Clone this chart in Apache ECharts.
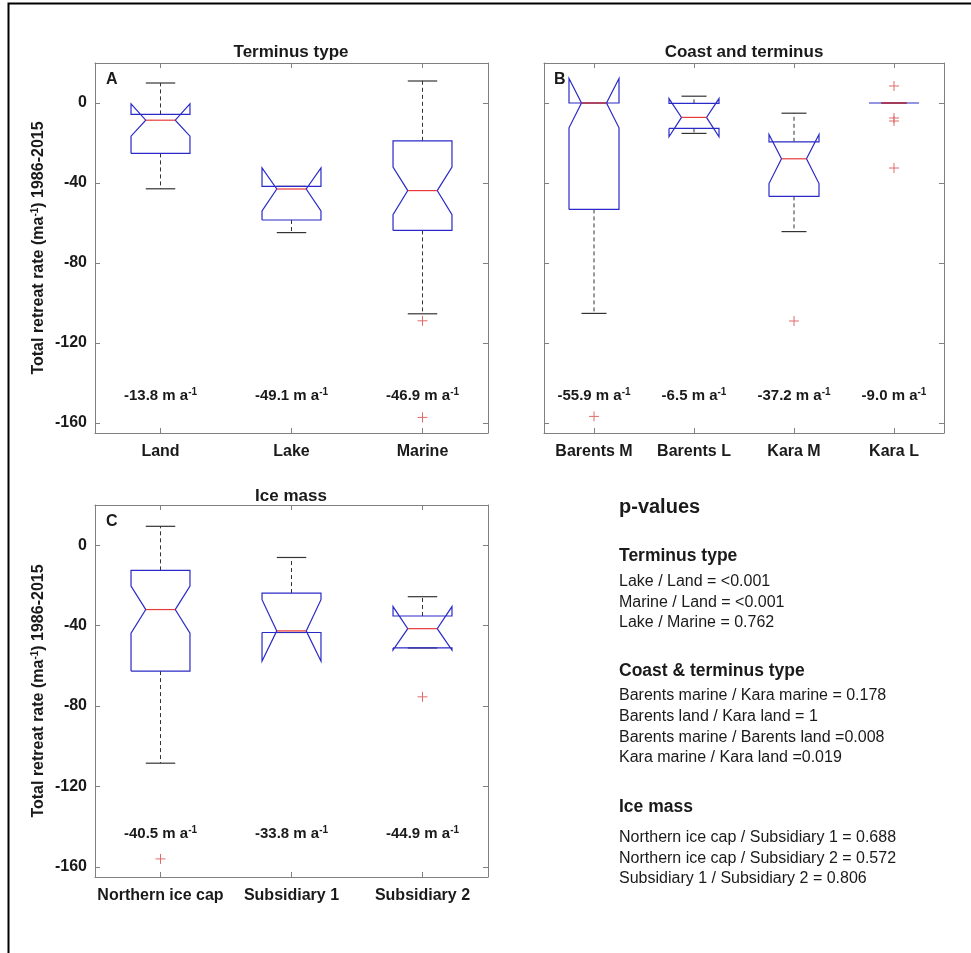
<!DOCTYPE html>
<html><head><meta charset="utf-8">
<script src="https://cdn.jsdelivr.net/npm/echarts@6/dist/echarts.min.js"></script>
<style>html,body{margin:0;padding:0;background:#fff}#c{width:971px;height:953px}</style>
</head><body><div id="c"></div>
<script>
// ---------- data ----------
const yTicks = [-160, -120, -80, -40, 0];

const catsA = ['Land', 'Lake', 'Marine'];
const whiskerHiA = [10, -41.7, 11];
const notchHiA = [-0.4, -32.5, -32];
const q3A = [-5.7, -41.7, -18.9];
const medianA = [-8.6, -43, -43.8];
const q1A = [-25.2, -58.5, -63.7];
const notchLoA = [-16.6, -54, -55.8];
const whiskerLoA = [-42.9, -64.8, -105.4];
const outliersA = [[2, -108.9], [2, -157.2]];
const meansA = [-13.8, -49.1, -46.9];

const catsB = ['Barents M', 'Barents L', 'Kara M', 'Kara L'];
const whiskerHiB = [0, 3.4, -5.1, 0];
const notchHiB = [12.2, 2.2, -15.7, 0];
const q3B = [0, -0.2, -19.4, 0];
const medianB = [0, -7.2, -27.9, 0];
const q1B = [-53.2, -12.7, -46.7, 0];
const notchLoB = [-12.4, -16.9, -40.3, 0];
const whiskerLoB = [-105.2, -15.2, -64.3, 0];
const outliersB = [[0, -156.7], [2, -109], [3, 8.5], [3, -7.5], [3, -9], [3, -32.5]];
const meansB = [-55.9, -6.5, -37.2, -9.0];

const catsC = ['Northern ice cap', 'Subsidiary 1', 'Subsidiary 2'];
const whiskerHiC = [9.4, -6.1, -25.6];
const notchHiC = [-20.3, -27.1, -30.5];
const q3C = [-12.5, -23.8, -35.2];
const medianC = [-32, -42.6, -41.5];
const q1C = [-62.6, -43.4, -51.1];
const notchLoC = [-43.8, -57.7, -52.2];
const whiskerLoC = [-108.4, -43.4, -51.1];
const outliersC = [[0, -156], [2, -75.4]];
const meansC = [-40.5, -33.8, -44.9];

const pTerminus = ['Lake / Land = <0.001', 'Marine / Land = <0.001', 'Lake / Marine = 0.762'];
const pCoast = ['Barents marine / Kara marine = 0.178', 'Barents land / Kara land = 1',
  'Barents marine / Barents land =0.008', 'Kara marine / Kara land =0.019'];
const pIce = ['Northern ice cap / Subsidiary 1 = 0.688', 'Northern ice cap / Subsidiary 2 = 0.572',
  'Subsidiary 1 / Subsidiary 2 = 0.806'];

// ---------- style ----------
const FONT = '"Liberation Sans", Arial, sans-serif';
const AX = '#808080';
const TXT = '#1a1a1a';
const BLUE = '#2a2ac8';
const RED = '#e83a3a';
const OUT = '#e06a6a';
const WH = '#333333';

const panels = [
  { cats: catsA, wHi: whiskerHiA, nHi: notchHiA, q3: q3A, med: medianA, q1: q1A, nLo: notchLoA, wLo: whiskerLoA,
    out: outliersA, means: meansA, grid: { left: 95, top: 63, width: 393, height: 370 }, boxW: 0.45, labelY: -146.5, showY: true },
  { cats: catsB, wHi: whiskerHiB, nHi: notchHiB, q3: q3B, med: medianB, q1: q1B, nLo: notchLoB, wLo: whiskerLoB,
    out: outliersB, means: meansB, grid: { left: 544, top: 63, width: 400, height: 370 }, boxW: 0.5, labelY: -146.5, showY: false },
  { cats: catsC, wHi: whiskerHiC, nHi: notchHiC, q3: q3C, med: medianC, q1: q1C, nLo: notchLoC, wLo: whiskerLoC,
    out: outliersC, means: meansC, grid: { left: 95, top: 505, width: 393, height: 372 }, boxW: 0.45, labelY: -143.5, showY: true }
];

const grids = [], xAxes = [], yAxes = [], series = [];

panels.forEach((p, i) => {
  grids.push(Object.assign({ containLabel: false }, p.grid));
  const lineSt = { show: true, onZero: false, lineStyle: { color: AX, width: 1 } };
  xAxes.push({
    gridIndex: i, type: 'category', data: p.cats, position: 'bottom',
    axisLine: lineSt,
    axisTick: { show: true, inside: true, alignWithLabel: true, length: 5, lineStyle: { color: AX } },
    axisLabel: { interval: 0, color: TXT, fontWeight: 'bold', fontSize: 16, fontFamily: FONT, margin: 11 },
    splitLine: { show: false }
  });
  xAxes.push({
    gridIndex: i, type: 'category', data: p.cats, position: 'top',
    axisLine: lineSt,
    axisTick: { show: true, inside: true, alignWithLabel: true, length: 5, lineStyle: { color: AX } },
    axisLabel: { show: false }, splitLine: { show: false }
  });
  yAxes.push({
    gridIndex: i, type: 'value', min: -165, max: 20, position: 'left',
    axisLine: lineSt,
    axisTick: { show: true, inside: true, length: 5, customValues: yTicks, lineStyle: { color: AX } },
    axisLabel: { show: p.showY, customValues: yTicks, color: TXT, fontWeight: 'bold', fontSize: 16, fontFamily: FONT, margin: 8 },
    splitLine: { show: false },
    name: p.showY ? '{n|Total retreat rate (ma}{s|-1}{n|) 1986-2015}' : '',
    nameLocation: 'middle', nameGap: 47, nameRotate: 90,
    nameTextStyle: {
      rich: {
        n: { fontSize: 16, fontWeight: 'bold', color: TXT, fontFamily: FONT, lineHeight: 18 },
        s: { fontSize: 10, fontWeight: 'bold', color: TXT, fontFamily: FONT, lineHeight: 10, verticalAlign: 'top' }
      }
    }
  });
  yAxes.push({
    gridIndex: i, type: 'value', min: -165, max: 20, position: 'right',
    axisLine: lineSt,
    axisTick: { show: true, inside: true, length: 5, customValues: yTicks, lineStyle: { color: AX } },
    axisLabel: { show: false }, splitLine: { show: false }
  });

  const xi = i * 2, yi = i * 2;
  const boxW = p.boxW;
  // boxes
  series.push({
    type: 'custom', xAxisIndex: xi, yAxisIndex: yi, silent: true,
    data: p.cats.map((c, j) => [j, p.wHi[j], p.nHi[j], p.q3[j], p.med[j], p.q1[j], p.nLo[j], p.wLo[j]]),
    encode: { x: 0, y: [1, 2, 3, 4, 5, 6, 7] },
    renderItem: function (params, api) {
      const j = api.value(0);
      const wHi = api.value(1), nHi = api.value(2), q3 = api.value(3), med = api.value(4),
        q1 = api.value(5), nLo = api.value(6), wLo = api.value(7);
      const band = api.size([1, 0])[0];
      const hw = band * boxW / 2;
      const cx = api.coord([j, 0])[0];
      const Y = v => api.coord([j, v])[1];
      const L = cx - hw, R = cx + hw, iL = cx - hw / 2, iR = cx + hw / 2;
      const ch = [];
      const dash = { stroke: WH, lineWidth: 1, lineDash: [4, 3], fill: null };
      const solid = { stroke: WH, lineWidth: 1.2, fill: null };
      if (wHi > q3) ch.push({ type: 'line', shape: { x1: cx, y1: Y(q3), x2: cx, y2: Y(wHi) }, style: dash });
      if (wLo < q1) ch.push({ type: 'line', shape: { x1: cx, y1: Y(q1), x2: cx, y2: Y(wLo) }, style: dash });
      ch.push({ type: 'line', shape: { x1: cx - hw / 2, y1: Y(wHi), x2: cx + hw / 2, y2: Y(wHi) }, style: solid });
      ch.push({ type: 'line', shape: { x1: cx - hw / 2, y1: Y(wLo), x2: cx + hw / 2, y2: Y(wLo) }, style: solid });
      ch.push({
        type: 'polyline',
        shape: { points: [[L, Y(q1)], [L, Y(nLo)], [iL, Y(med)], [L, Y(nHi)], [L, Y(q3)], [R, Y(q3)],
          [R, Y(nHi)], [iR, Y(med)], [R, Y(nLo)], [R, Y(q1)], [L, Y(q1)]] },
        style: { stroke: BLUE, lineWidth: 1.2, fill: null }
      });
      ch.push({ type: 'line', shape: { x1: iL, y1: Y(med), x2: iR, y2: Y(med) }, style: { stroke: RED, lineWidth: 1.2 } });
      return { type: 'group', children: ch };
    }
  });
  // outliers
  series.push({
    type: 'custom', xAxisIndex: xi, yAxisIndex: yi, silent: true,
    data: p.out,
    renderItem: function (params, api) {
      const pt = api.coord([api.value(0), api.value(1)]);
      const s = 5;
      return { type: 'group', children: [
        { type: 'line', shape: { x1: pt[0] - s, y1: pt[1], x2: pt[0] + s, y2: pt[1] }, style: { stroke: OUT, lineWidth: 1 } },
        { type: 'line', shape: { x1: pt[0], y1: pt[1] - s, x2: pt[0], y2: pt[1] + s }, style: { stroke: OUT, lineWidth: 1 } }
      ] };
    }
  });
  // mean labels
  const ly = p.labelY;
  series.push({
    type: 'custom', xAxisIndex: xi, yAxisIndex: yi, silent: true,
    data: p.means.map((m, j) => [j, ly, m]),
    renderItem: function (params, api) {
      const pt = api.coord([api.value(0), api.value(1)]);
      const m = api.value(2);
      return {
        type: 'text', x: pt[0], y: pt[1],
        style: {
          text: '{b|' + m.toFixed(1) + ' m a}{s|-1}',
          align: 'center', verticalAlign: 'middle',
          rich: {
            b: { fontSize: 15, fontWeight: 'bold', fill: TXT, fontFamily: FONT, lineHeight: 17 },
            s: { fontSize: 10, fontWeight: 'bold', fill: TXT, fontFamily: FONT, lineHeight: 10, verticalAlign: 'top' }
          }
        }
      };
    }
  });
});

// ---------- graphics (titles, letters, p-values text, frame) ----------
const g = [];
g.push({ type: 'rect', shape: { x: 8.5, y: 3.5, width: 1000, height: 1000 }, style: { stroke: '#000', lineWidth: 2, fill: null }, silent: true });
function txt(x, y, t, size, bold, align) {
  g.push({ type: 'text', x: x, y: y, silent: true,
    style: { text: t, fontSize: size, fontWeight: bold ? 'bold' : 'normal', fontFamily: FONT, fill: TXT,
      align: align || 'left', verticalAlign: 'middle' } });
}
txt(291, 52.5, 'Terminus type', 17, true, 'center');
txt(744, 52.5, 'Coast and terminus', 17, true, 'center');
txt(291, 496, 'Ice mass', 17, true, 'center');
txt(106, 80, 'A', 16, true);
txt(554, 80, 'B', 16, true);
txt(106, 522, 'C', 16, true);

txt(619, 507, 'p-values', 20, true);
txt(619, 556, 'Terminus type', 17.5, true);
pTerminus.forEach((s, k) => txt(619, 582 + k * 20.4, s, 16, false));
txt(619, 671, 'Coast & terminus type', 17.5, true);
pCoast.forEach((s, k) => txt(619, 696 + k * 20.6, s, 16, false));
txt(619, 807, 'Ice mass', 17.5, true);
pIce.forEach((s, k) => txt(619, 838 + k * 20.4, s, 16, false));

const chart = echarts.init(document.getElementById('c'), null, { renderer: 'canvas' });
chart.setOption({
  animation: false,
  backgroundColor: '#fff',
  grid: grids, xAxis: xAxes, yAxis: yAxes, series: series, graphic: g
});
</script></body></html>
